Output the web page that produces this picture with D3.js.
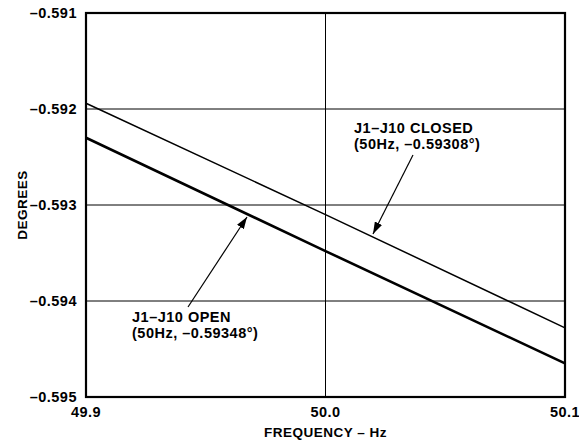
<!DOCTYPE html>
<html>
<head>
<meta charset="utf-8">
<script src="https://d3js.org/d3.v7.min.js"></script>
<style>
  body { margin: 0; background: #fff; }
  text { font-family: "Liberation Sans", Arial, sans-serif; font-weight: bold; fill: #000; letter-spacing: 0.5px; }
</style>
</head>
<body>
<script>
// data
var freq = [49.9, 50.0, 50.1];
var closedDeg = [-0.59194, -0.59310, -0.59428];
var openDeg = [-0.59230, -0.59348, -0.59465];
var xTicks = [49.9, 50.0, 50.1];
var yTicks = [-0.591, -0.592, -0.593, -0.594, -0.595];

var W = 579, H = 443;
var plotL = 86, plotT = 13, plotR = 565, plotB = 397;

var svg = d3.select("body").append("svg").attr("width", W).attr("height", H);

var x = d3.scaleLinear().domain([49.9, 50.1]).range([plotL, plotR]);
var y = d3.scaleLinear().domain([-0.591, -0.595]).range([plotT, plotB]);

// grid
svg.append("g").selectAll("line").data(yTicks).enter().append("line")
  .attr("x1", plotL).attr("x2", plotR)
  .attr("y1", function(d) { return y(d); }).attr("y2", function(d) { return y(d); })
  .attr("stroke", "#000").attr("stroke-width", 1);
svg.append("g").selectAll("line").data(xTicks).enter().append("line")
  .attr("y1", plotT).attr("y2", plotB)
  .attr("x1", function(d) { return x(d); }).attr("x2", function(d) { return x(d); })
  .attr("stroke", "#000").attr("stroke-width", 1);

// series
var line = d3.line().x(function(d) { return x(d[0]); }).y(function(d) { return y(d[1]); });
svg.append("path").datum(d3.zip(freq, closedDeg)).attr("d", line)
  .attr("fill", "none").attr("stroke", "#000").attr("stroke-width", 1.5);
svg.append("path").datum(d3.zip(freq, openDeg)).attr("d", line)
  .attr("fill", "none").attr("stroke", "#000").attr("stroke-width", 2.6);

// frame
svg.append("rect").attr("x", plotL).attr("y", plotT)
  .attr("width", plotR - plotL).attr("height", plotB - plotT)
  .attr("fill", "none").attr("stroke", "#000").attr("stroke-width", 2.2);

// tick labels
svg.append("g").selectAll("text").data(yTicks).enter().append("text")
  .attr("x", plotL - 9).attr("y", function(d) { return y(d); })
  .attr("dy", "0.36em").attr("text-anchor", "end").style("font-size", "14.5px")
  .text(function(d) { return "\u2013" + Math.abs(d).toFixed(3); });
svg.append("g").selectAll("text").data(xTicks).enter().append("text")
  .attr("x", function(d) { return x(d); }).attr("y", 417)
  .attr("text-anchor", "middle").style("font-size", "14.5px")
  .text(function(d) { return d.toFixed(1); });

// axis titles
svg.append("text").attr("x", (plotL + plotR) / 2).attr("y", 437)
  .attr("text-anchor", "middle").style("font-size", "13.5px").text("FREQUENCY \u2013 Hz");
svg.append("text").attr("transform", "translate(27," + ((plotT + plotB) / 2) + ") rotate(-90)")
  .attr("text-anchor", "middle").style("font-size", "13.5px").text("DEGREES");

// annotations
svg.append("defs").append("marker").attr("id", "ah")
  .attr("viewBox", "0 0 12 8").attr("refX", 12).attr("refY", 4)
  .attr("markerWidth", 12).attr("markerHeight", 8).attr("markerUnits", "userSpaceOnUse")
  .attr("orient", "auto")
  .append("path").attr("d", "M0,0 L12,4 L0,8 Z").attr("fill", "#000");

function note(lines, tx, ty, from, to) {
  var t = svg.append("text").attr("x", tx).attr("y", ty).style("font-size", "14.5px");
  lines.forEach(function(s, i) {
    t.append("tspan").attr("x", tx).attr("dy", i ? 16 : 0).text(s);
  });
  svg.append("line").attr("x1", from[0]).attr("y1", from[1])
    .attr("x2", to[0]).attr("y2", to[1])
    .attr("stroke", "#000").attr("stroke-width", 1.2).attr("marker-end", "url(#ah)");
}
note(["J1\u2013J10 CLOSED", "(50Hz, \u20130.59308\u00b0)"], 354, 133, [413, 155], [373, 234]);
note(["J1\u2013J10 OPEN", "(50Hz, \u20130.59348\u00b0)"], 132, 322, [188, 307], [247, 217]);
</script>
</body>
</html>
